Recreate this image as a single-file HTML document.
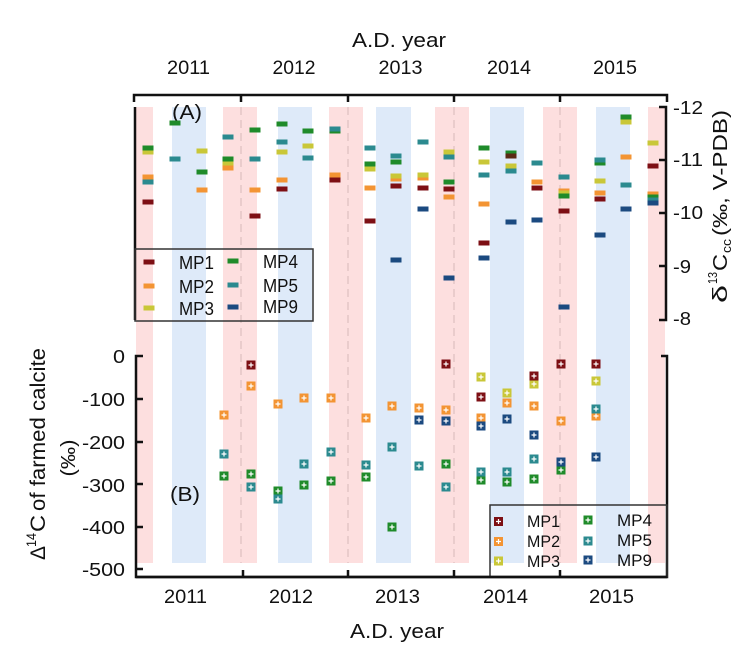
<!DOCTYPE html>
<html>
<head>
<meta charset="utf-8">
<style>
  html, body { margin: 0; padding: 0; background: #ffffff; }
  svg { display: block; }
  text { font-family: "Liberation Sans", Arial, sans-serif; fill: #111; }
</style>
</head>
<body>
<svg width="756" height="648" viewBox="0 0 756 648" xmlns="http://www.w3.org/2000/svg">
  <defs>
    <rect id="t" x="-5.5" y="-2.5" width="11" height="5"/>
    <g id="b">
      <rect x="-4.5" y="-4.5" width="9" height="9"/>
      <path d="M-2.5 0H2.5M0 -2.5V2.5" stroke="#ffffff" stroke-width="1.2" fill="none"/>
    </g>
  </defs>

  <!-- background bands -->
  <g>
    <rect x="136" y="107" width="17" height="456" fill="#fddfdf"/>
    <rect x="223" y="107" width="34" height="456" fill="#fddfdf"/>
    <rect x="329" y="107" width="34" height="456" fill="#fddfdf"/>
    <rect x="435" y="107" width="34" height="456" fill="#fddfdf"/>
    <rect x="543" y="107" width="34" height="456" fill="#fddfdf"/>
    <rect x="648" y="107" width="17" height="456" fill="#fddfdf"/>
    <rect x="172" y="107" width="34" height="456" fill="#deeaf9"/>
    <rect x="278" y="107" width="34" height="456" fill="#deeaf9"/>
    <rect x="376" y="107" width="35" height="456" fill="#deeaf9"/>
    <rect x="490" y="107" width="34" height="456" fill="#deeaf9"/>
    <rect x="596" y="107" width="34" height="456" fill="#deeaf9"/>
  </g>
  <!-- dashed year lines -->
  <g stroke="#d6b8b8" stroke-width="1" stroke-dasharray="8 5">
    <line x1="241" y1="107" x2="241" y2="563"/>
    <line x1="348" y1="107" x2="348" y2="563"/>
    <line x1="454" y1="107" x2="454" y2="563"/>
    <line x1="560" y1="107" x2="560" y2="563"/>
  </g>

  <!-- axes -->
  <g stroke="#111" stroke-width="2.5" fill="none">
    <path d="M134 102V95H667V102"/>
    <path d="M241 95V102M348 95V102M454 95V102M560 95V102"/>
    <path d="M135 107V320"/>
    <path d="M659 107H666V320H659"/>
    <path d="M659 160H666M659 213H666M659 266H666"/>
    <path d="M143 356H136V577H667V356H661"/>
    <path d="M136 399H143M136 442H143M136 484H143M136 527H143M136 569H143"/>
    <path d="M243 577V570M348 577V570M454 577V570M560 577V570"/>
  </g>

  <!-- top labels -->
  <text x="352" y="47" font-size="20" textLength="94" lengthAdjust="spacingAndGlyphs">A.D. year</text>
  <g font-size="19" text-anchor="middle">
    <text x="188.5" y="74" textLength="43" lengthAdjust="spacingAndGlyphs">2011</text>
    <text x="294" y="74" textLength="43" lengthAdjust="spacingAndGlyphs">2012</text>
    <text x="400.5" y="74" textLength="44" lengthAdjust="spacingAndGlyphs">2013</text>
    <text x="509" y="74" textLength="44" lengthAdjust="spacingAndGlyphs">2014</text>
    <text x="615" y="74" textLength="44" lengthAdjust="spacingAndGlyphs">2015</text>
  </g>
  <!-- bottom labels -->
  <g font-size="19" text-anchor="middle">
    <text x="185.5" y="603" textLength="43" lengthAdjust="spacingAndGlyphs">2011</text>
    <text x="291" y="603" textLength="44" lengthAdjust="spacingAndGlyphs">2012</text>
    <text x="397.5" y="603" textLength="45" lengthAdjust="spacingAndGlyphs">2013</text>
    <text x="505.5" y="603" textLength="45" lengthAdjust="spacingAndGlyphs">2014</text>
    <text x="611.5" y="603" textLength="45" lengthAdjust="spacingAndGlyphs">2015</text>
  </g>
  <text x="350" y="638" font-size="20" textLength="94" lengthAdjust="spacingAndGlyphs">A.D. year</text>

  <!-- right ticks -->
  <g font-size="18">
    <text x="673" y="114" textLength="30" lengthAdjust="spacingAndGlyphs">-12</text>
    <text x="673" y="166" textLength="30" lengthAdjust="spacingAndGlyphs">-11</text>
    <text x="673" y="219" textLength="30" lengthAdjust="spacingAndGlyphs">-10</text>
    <text x="673" y="273" textLength="18" lengthAdjust="spacingAndGlyphs">-9</text>
    <text x="673" y="325" textLength="18" lengthAdjust="spacingAndGlyphs">-8</text>
  </g>
  <!-- left ticks -->
  <g font-size="18.5" text-anchor="end">
    <text x="125" y="363" textLength="12" lengthAdjust="spacingAndGlyphs">0</text>
    <text x="125" y="406" textLength="43" lengthAdjust="spacingAndGlyphs">-100</text>
    <text x="125" y="449" textLength="43" lengthAdjust="spacingAndGlyphs">-200</text>
    <text x="125" y="492" textLength="43" lengthAdjust="spacingAndGlyphs">-300</text>
    <text x="125" y="534" textLength="43" lengthAdjust="spacingAndGlyphs">-400</text>
    <text x="125" y="576" textLength="43" lengthAdjust="spacingAndGlyphs">-500</text>
  </g>

  <!-- panel labels -->
  <text x="172" y="119" font-size="20" textLength="30" lengthAdjust="spacingAndGlyphs">(A)</text>
  <text x="170" y="501" font-size="20" textLength="30" lengthAdjust="spacingAndGlyphs">(B)</text>

  <!-- left axis title -->
  <g transform="translate(45,454) rotate(-90)" font-size="21">
    <text x="-106" y="0" textLength="14" lengthAdjust="spacingAndGlyphs">Δ</text>
    <text x="-93" y="-9" font-size="14" textLength="14" lengthAdjust="spacingAndGlyphs">14</text>
    <text x="-78" y="0" textLength="17" lengthAdjust="spacingAndGlyphs">C</text>
    <text x="-57" y="0" textLength="163" lengthAdjust="spacingAndGlyphs">of farmed calcite</text>
  </g>
  <g transform="translate(75,458) rotate(-90)" font-size="20">
    <text x="0" y="0" text-anchor="middle" textLength="37" lengthAdjust="spacingAndGlyphs">(‰)</text>
  </g>

  <!-- right axis title -->
  <g transform="translate(727,207) rotate(-90)" font-size="20">
    <text x="-96" y="0" textLength="18" lengthAdjust="spacingAndGlyphs">δ</text>
    <text x="-77" y="-10" font-size="13" textLength="12" lengthAdjust="spacingAndGlyphs">13</text>
    <text x="-64" y="0" textLength="17" lengthAdjust="spacingAndGlyphs">C</text>
    <text x="-46" y="4" font-size="13" textLength="14" lengthAdjust="spacingAndGlyphs">cc</text>
    <text x="-29" y="0" textLength="126" lengthAdjust="spacingAndGlyphs">(‰, V-PDB)</text>
  </g>

  <!-- top panel markers -->
  <g>
    <!-- MP1 dark red -->
    <g fill="#7d0f14">
      <use href="#t" x="148" y="202"/>
      <use href="#t" x="255" y="216"/>
      <use href="#t" x="282" y="189"/>
      <use href="#t" x="335" y="180"/>
      <use href="#t" x="370" y="221"/>
      <use href="#t" x="396" y="186"/>
      <use href="#t" x="423" y="188"/>
      <use href="#t" x="449" y="189"/>
      <use href="#t" x="484" y="243"/>
      <use href="#t" x="537" y="188"/>
      <use href="#t" x="564" y="211"/>
      <use href="#t" x="600" y="199"/>
      <use href="#t" x="653" y="166"/>
    </g>
    <!-- MP2 orange -->
    <g fill="#f39433">
      <use href="#t" x="148" y="177"/>
      <use href="#t" x="202" y="190"/>
      <use href="#t" x="228" y="168"/>
      <use href="#t" x="255" y="190"/>
      <use href="#t" x="282" y="180"/>
      <use href="#t" x="335" y="175"/>
      <use href="#t" x="370" y="188"/>
      <use href="#t" x="396" y="179"/>
      <use href="#t" x="423" y="178"/>
      <use href="#t" x="449" y="197"/>
      <use href="#t" x="484" y="204"/>
      <use href="#t" x="537" y="182"/>
      <use href="#t" x="564" y="191"/>
      <use href="#t" x="600" y="193"/>
      <use href="#t" x="626" y="157"/>
      <use href="#t" x="653" y="194"/>
    </g>
    <!-- MP3 yellow -->
    <g fill="#c9c738">
      <use href="#t" x="148" y="152"/>
      <use href="#t" x="202" y="151"/>
      <use href="#t" x="228" y="163"/>
      <use href="#t" x="282" y="152"/>
      <use href="#t" x="308" y="146"/>
      <use href="#t" x="370" y="169"/>
      <use href="#t" x="396" y="176"/>
      <use href="#t" x="423" y="175"/>
      <use href="#t" x="449" y="152"/>
      <use href="#t" x="484" y="162"/>
      <use href="#t" x="511" y="166"/>
      <use href="#t" x="564" y="193"/>
      <use href="#t" x="600" y="181"/>
      <use href="#t" x="626" y="122"/>
      <use href="#t" x="653" y="143"/>
    </g>
    <!-- MP4 green -->
    <g fill="#1f8b2a">
      <use href="#t" x="148" y="148"/>
      <use href="#t" x="175" y="123"/>
      <use href="#t" x="202" y="172"/>
      <use href="#t" x="228" y="159"/>
      <use href="#t" x="255" y="130"/>
      <use href="#t" x="282" y="124"/>
      <use href="#t" x="308" y="131"/>
      <use href="#t" x="335" y="131"/>
      <use href="#t" x="370" y="164"/>
      <use href="#t" x="396" y="162"/>
      <use href="#t" x="449" y="182"/>
      <use href="#t" x="484" y="148"/>
      <use href="#t" x="511" y="153"/>
      <use href="#t" x="564" y="196"/>
      <use href="#t" x="600" y="163"/>
      <use href="#t" x="626" y="117"/>
      <use href="#t" x="653" y="197"/>
    </g>
    <!-- MP1 overlay at 511 (dark) -->
    <g fill="#5a2a14">
      <use href="#t" x="511" y="156"/>
    </g>
    <!-- MP5 teal -->
    <g fill="#2b8a8f">
      <use href="#t" x="148" y="182"/>
      <use href="#t" x="175" y="159"/>
      <use href="#t" x="228" y="137"/>
      <use href="#t" x="255" y="159"/>
      <use href="#t" x="282" y="142"/>
      <use href="#t" x="308" y="158"/>
      <use href="#t" x="335" y="129"/>
      <use href="#t" x="370" y="148"/>
      <use href="#t" x="396" y="156"/>
      <use href="#t" x="423" y="142"/>
      <use href="#t" x="449" y="157"/>
      <use href="#t" x="484" y="175"/>
      <use href="#t" x="511" y="171"/>
      <use href="#t" x="537" y="163"/>
      <use href="#t" x="564" y="177"/>
      <use href="#t" x="600" y="160"/>
      <use href="#t" x="626" y="185"/>
      <use href="#t" x="653" y="200"/>
    </g>
    <!-- MP9 dark blue -->
    <g fill="#1b4a80">
      <use href="#t" x="396" y="260"/>
      <use href="#t" x="423" y="209"/>
      <use href="#t" x="449" y="278"/>
      <use href="#t" x="484" y="258"/>
      <use href="#t" x="511" y="222"/>
      <use href="#t" x="537" y="220"/>
      <use href="#t" x="564" y="307"/>
      <use href="#t" x="600" y="235"/>
      <use href="#t" x="626" y="209"/>
      <use href="#t" x="653" y="203"/>
    </g>
  </g>

  <!-- top legend -->
  <rect x="135" y="249" width="178" height="72" fill="none" stroke="#333" stroke-width="1.5"/>
  <use href="#t" x="149" y="262" fill="#7d0f14"/>
  <use href="#t" x="149" y="286" fill="#f39433"/>
  <use href="#t" x="149" y="308" fill="#c9c738"/>
  <use href="#t" x="233" y="261" fill="#1f8b2a"/>
  <use href="#t" x="233" y="285" fill="#2b8a8f"/>
  <use href="#t" x="233" y="307" fill="#1b4a80"/>
  <g font-size="18">
    <text x="179" y="269" textLength="35" lengthAdjust="spacingAndGlyphs">MP1</text>
    <text x="179" y="293" textLength="35" lengthAdjust="spacingAndGlyphs">MP2</text>
    <text x="179" y="315" textLength="35" lengthAdjust="spacingAndGlyphs">MP3</text>
    <text x="263" y="268" textLength="35" lengthAdjust="spacingAndGlyphs">MP4</text>
    <text x="263" y="292" textLength="35" lengthAdjust="spacingAndGlyphs">MP5</text>
    <text x="263" y="313" textLength="35" lengthAdjust="spacingAndGlyphs">MP9</text>
  </g>

  <!-- bottom panel markers -->
  <g>
    <!-- MP2 orange -->
    <g fill="#f39433">
      <use href="#b" x="224" y="415"/>
      <use href="#b" x="251" y="386"/>
      <use href="#b" x="278" y="404"/>
      <use href="#b" x="304" y="398"/>
      <use href="#b" x="331" y="398"/>
      <use href="#b" x="366" y="418"/>
      <use href="#b" x="392" y="406"/>
      <use href="#b" x="419" y="408"/>
      <use href="#b" x="446" y="410"/>
      <use href="#b" x="481" y="418"/>
      <use href="#b" x="534" y="406"/>
      <use href="#b" x="561" y="421"/>
      <use href="#b" x="596" y="416"/>
    </g>
    <!-- MP3 yellow -->
    <g fill="#c9c738">
      <use href="#b" x="481" y="377"/>
      <use href="#b" x="507" y="393"/>
      <use href="#b" x="534" y="384"/>
      <use href="#b" x="596" y="381"/>
    </g>
    <g fill="#f39433">
      <use href="#b" x="507" y="403"/>
    </g>
    <!-- MP1 dark red -->
    <g fill="#7d0f14">
      <use href="#b" x="251" y="365"/>
      <use href="#b" x="446" y="364"/>
      <use href="#b" x="481" y="397"/>
      <use href="#b" x="534" y="376"/>
      <use href="#b" x="561" y="364"/>
      <use href="#b" x="596" y="364"/>
    </g>
    <!-- MP4 green -->
    <g fill="#1f8b2a">
      <use href="#b" x="224" y="476"/>
      <use href="#b" x="251" y="474"/>
      <use href="#b" x="278" y="491"/>
      <use href="#b" x="304" y="485"/>
      <use href="#b" x="331" y="481"/>
      <use href="#b" x="366" y="477"/>
      <use href="#b" x="392" y="527"/>
      <use href="#b" x="446" y="464"/>
      <use href="#b" x="481" y="480"/>
      <use href="#b" x="507" y="482"/>
      <use href="#b" x="534" y="479"/>
      <use href="#b" x="561" y="470"/>
    </g>
    <!-- MP5 teal -->
    <g fill="#2b8a8f">
      <use href="#b" x="224" y="454"/>
      <use href="#b" x="251" y="487"/>
      <use href="#b" x="278" y="499"/>
      <use href="#b" x="304" y="464"/>
      <use href="#b" x="331" y="452"/>
      <use href="#b" x="366" y="465"/>
      <use href="#b" x="392" y="447"/>
      <use href="#b" x="419" y="466"/>
      <use href="#b" x="446" y="487"/>
      <use href="#b" x="481" y="472"/>
      <use href="#b" x="507" y="472"/>
      <use href="#b" x="534" y="459"/>
      <use href="#b" x="596" y="409"/>
    </g>
    <!-- MP9 dark blue -->
    <g fill="#1b4a80">
      <use href="#b" x="419" y="420"/>
      <use href="#b" x="446" y="421"/>
      <use href="#b" x="481" y="426"/>
      <use href="#b" x="507" y="419"/>
      <use href="#b" x="534" y="435"/>
      <use href="#b" x="561" y="462"/>
      <use href="#b" x="596" y="457"/>
    </g>
  </g>

  <!-- bottom legend -->
  <rect x="490" y="505" width="177" height="72" fill="none" stroke="#333" stroke-width="1.5"/>
  <use href="#b" x="498.5" y="521.5" fill="#7d0f14"/>
  <use href="#b" x="498.5" y="541.5" fill="#f39433"/>
  <use href="#b" x="498.5" y="561" fill="#c9c738"/>
  <use href="#b" x="588" y="520" fill="#1f8b2a"/>
  <use href="#b" x="588" y="541" fill="#2b8a8f"/>
  <use href="#b" x="588" y="560" fill="#1b4a80"/>
  <g font-size="17">
    <text x="527" y="527" textLength="33" lengthAdjust="spacingAndGlyphs">MP1</text>
    <text x="527" y="547" textLength="33" lengthAdjust="spacingAndGlyphs">MP2</text>
    <text x="527" y="567" textLength="33" lengthAdjust="spacingAndGlyphs">MP3</text>
    <text x="617" y="526" textLength="35" lengthAdjust="spacingAndGlyphs">MP4</text>
    <text x="617" y="546" textLength="35" lengthAdjust="spacingAndGlyphs">MP5</text>
    <text x="617" y="566" textLength="35" lengthAdjust="spacingAndGlyphs">MP9</text>
  </g>
  <!-- redraw bottom axis over legend -->
  <path d="M136 577H667" stroke="#111" stroke-width="2.5" fill="none"/>
</svg>
</body>
</html>
